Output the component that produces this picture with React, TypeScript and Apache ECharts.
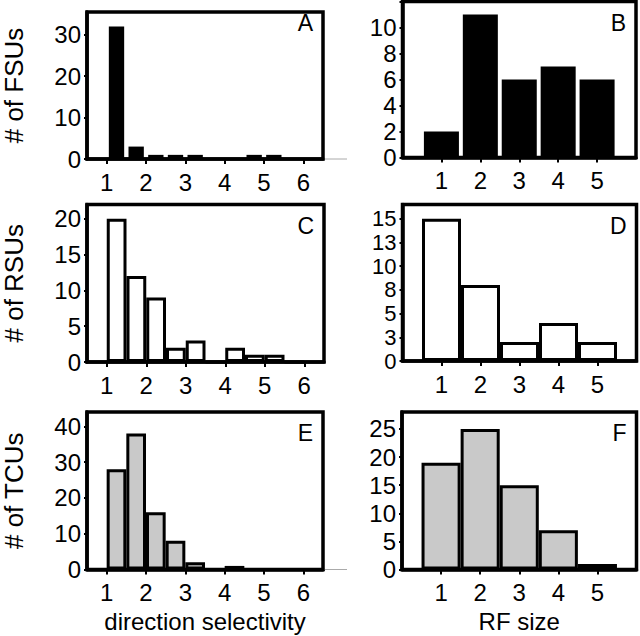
import { useEffect, useRef } from "react";
import * as echarts from "echarts";

// ---- data ----
const dsBinCenters = [1.25, 1.75, 2.25, 2.75, 3.25, 3.75, 4.25, 4.75, 5.25, 5.75];
const rfBinCenters = [1, 2, 3, 4, 5];
const fsuDirection = [32, 3, 1, 1, 1, 0, 0, 1, 1, 0];
const fsuRfSize = [2, 11, 6, 7, 6];
const rsuDirection = [20, 12, 9, 2, 3, 0, 2, 1, 1, 0];
const rsuRfSize = [15, 8, 2, 4, 2];
const tcuDirection = [28, 38, 16, 8, 2, 0, 1, 0, 0, 0];
const tcuRfSize = [19, 25, 15, 7, 1];
const dsTickLabels = [1, 2, 3, 4, 5, 6];
const rfTickLabels = [1, 2, 3, 4, 5];
const panelLetters = ["A", "B", "C", "D", "E", "F"];
const rowNames = ["# of FSUs", "# of RSUs", "# of TCUs"];
const xNames = ["direction selectivity", "RF size"];

const FONT = "'Liberation Sans', Arial, Helvetica, sans-serif";

const grids = [
  { left: 86, top: 1.5, width: 237, height: 157.5 },
  { left: 402.5, top: 1.5, width: 233.5, height: 156 },
  { left: 84, top: 204.5, width: 240, height: 157.5 },
  { left: 402.5, top: 204.5, width: 234, height: 156.5 },
  { left: 85, top: 412, width: 238, height: 157.5 },
  { left: 402, top: 412, width: 234.5, height: 157.5 },
];

const yCfg = [
  { max: 35.5, interval: 10, font: 24 },
  { max: 12, interval: 2, labels: [0, 2, 4, 6, 8, 10], font: 24 },
  { max: 22, interval: 5, font: 24 },
  { max: 16.5, interval: 2.5, font: 22 },
  { max: 44, interval: 10, font: 24 },
  { max: 28, interval: 5, font: 24 },
];

const seriesValues = [fsuDirection, fsuRfSize, rsuDirection, rsuRfSize, tcuDirection, tcuRfSize];

const styles = [
  { color: "#000", borderWidth: 0, barWidth: "78%" },
  { color: "#000", borderWidth: 0, barWidth: "90%" },
  { color: "#fff", borderWidth: 3, barWidth: "100%" },
  { color: "#fff", borderWidth: 3, barWidth: "100%" },
  { color: "#c9c9c9", borderWidth: 3, barWidth: "100%" },
  { color: "#c9c9c9", borderWidth: 3, barWidth: "100%" },
];

export default function App() {
  const ref = useRef<HTMLDivElement>(null);
  useEffect(() => {
    if (!ref.current) return;
    const chart = echarts.init(ref.current, undefined, { renderer: "svg" });

    const xAxis: any[] = [];
    const yAxis: any[] = [];
    const series: any[] = [];
    const graphic: any[] = [];

    grids.forEach((g, i) => {
      const isDs = i % 2 === 0;
      const row = Math.floor(i / 2);
      xAxis.push({
        type: "value",
        gridIndex: i,
        min: isDs ? 0.5 : 0,
        max: isDs ? 6.5 : 6,
        splitLine: { show: false },
        axisLine: { show: true, onZero: false, lineStyle: { color: "#000", width: 3.5 } },
        axisTick: {
          show: true,
          inside: false,
          length: 5,
          lineStyle: { color: "#000", width: 2 },
          customValues: isDs ? dsTickLabels : rfTickLabels,
        },
        axisLabel: {
          customValues: isDs ? dsTickLabels : rfTickLabels,
          color: "#000",
          fontSize: 24,
          fontFamily: FONT,
          margin: 11,
        },
        name: row === 2 ? xNames[i % 2] : "",
        nameLocation: "middle",
        nameGap: 40,
        nameTextStyle: { color: "#000", fontSize: 24, fontFamily: FONT },
      });
      const yc = yCfg[i];
      const yLabel: any = {
        color: "#000",
        fontSize: yc.font,
        lineHeight: 20,
        fontFamily: FONT,
        margin: 6,
        showMinLabel: true,
        formatter: (v: number) => String(Math.round(v)),
      };
      if (yc.labels) yLabel.customValues = yc.labels;
      yAxis.push({
        type: "value",
        gridIndex: i,
        min: 0,
        max: yc.max,
        interval: yc.interval,
        splitLine: { show: false },
        axisLine: { show: true, lineStyle: { color: "#000", width: 3.5 } },
        axisTick: { show: true, inside: false, length: 3, lineStyle: { color: "#000", width: 2 } },
        axisLabel: yLabel,
        name: isDs ? rowNames[row] : "",
        nameLocation: "middle",
        nameGap: 60,
        nameTextStyle: { color: "#000", fontSize: 26, fontFamily: FONT },
      });
      const centers = isDs ? dsBinCenters : rfBinCenters;
      const st = styles[i];
      series.push({
        type: "bar",
        xAxisIndex: i,
        yAxisIndex: i,
        barWidth: st.barWidth,
        data: seriesValues[i].map((v, k) => [centers[k], v]),
        itemStyle: { color: st.color, borderColor: "#000", borderWidth: st.borderWidth },
        emphasis: { disabled: true },
      });
      graphic.push({
        type: "text",
        x: g.left + g.width - 10,
        y: g.top + 21,
        style: {
          text: panelLetters[i],
          fontSize: 23,
          fontFamily: FONT,
          fill: "#000",
          textAlign: "right",
          textVerticalAlign: "middle",
        },
      });
    });

    // faint gray extensions of the left-column baselines
    [0, 4].forEach((i) => {
      const g = grids[i];
      const y = g.top + g.height;
      graphic.push({
        type: "line",
        shape: { x1: g.left + g.width + 1.5, y1: y, x2: 347, y2: y },
        style: { stroke: "#aaa", lineWidth: 1 },
      });
    });

    chart.setOption({
      animation: false,
      backgroundColor: "#fff",
      grid: grids.map((g) => ({
        ...g,
        show: true,
        borderColor: "#000",
        borderWidth: 3.5,
        backgroundColor: "transparent",
        containLabel: false,
      })),
      xAxis,
      yAxis,
      series,
      graphic,
    });
    return () => chart.dispose();
  }, []);
  return (
    <div
      ref={ref}
      style={{ position: "absolute", left: 0, top: 0, width: 640, height: 636 }}
    />
  );
}
